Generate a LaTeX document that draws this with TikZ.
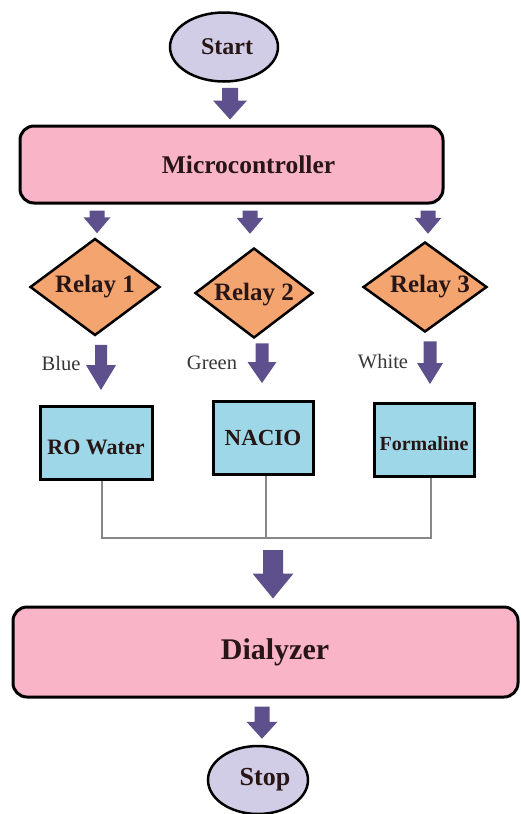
\documentclass[tikz,border=0pt]{standalone}
\usepackage{fontspec}
\setmainfont{Liberation Serif}
\usetikzlibrary{shapes.geometric,calc}
\definecolor{termc}{RGB}{210,205,230}
\definecolor{pinkc}{RGB}{249,180,200}
\definecolor{orangec}{RGB}{244,164,110}
\definecolor{tankc}{RGB}{158,216,232}
\definecolor{arrowc}{RGB}{94,80,140}
\definecolor{grayc}{RGB}{135,135,135}
\definecolor{textc}{RGB}{40,22,22}
\definecolor{labc}{RGB}{55,55,55}
\tikzset{
  term/.style={ellipse, draw=black, line width=2.5pt, fill=termc, inner sep=0pt,
    font=\bfseries\fontsize{24}{28}\selectfont, text=textc},
  bigbox/.style={rectangle, rounded corners=14pt, draw=black, line width=3pt, fill=pinkc,
    inner sep=0pt, text=textc},
  relay/.style={diamond, aspect=1.5, draw=black, line width=2.5pt, fill=orangec, inner sep=0pt,
    font=\bfseries\fontsize{25}{29}\selectfont, text=textc},
  tank/.style={rectangle, draw=black, line width=3pt, fill=tankc, inner sep=0pt,
    minimum height=73pt, text=textc},
  colorlab/.style={font=\fontsize{20.5}{24}\selectfont, text=labc, inner sep=0pt},
  grayline/.style={draw=grayc, line width=1.3pt},
  blockarrow/.style={fill=arrowc},
}
% #1 x reference, #2 top reference, #3 bottom reference, #4 top gap, #5 bottom gap,
% #6 half shaft width, #7 half head width, #8 head length
\newcommand\blockarr[8]{%
  \path[blockarrow] let \p1=(#1), \p2=(#2), \p3=(#3) in
    (\x1-#6,\y2-#4) -- (\x1+#6,\y2-#4) -- (\x1+#6,\y3+#5+#8) -- (\x1+#7,\y3+#5+#8)
    -- (\x1,\y3+#5) -- (\x1-#7,\y3+#5+#8) -- (\x1-#6,\y3+#5+#8) -- cycle;}
\begin{document}
\begin{tikzpicture}[x=1pt,y=-1pt]
\useasboundingbox[fill=white] (0,0) rectangle (520,814);

\node[term, minimum width=108pt, minimum height=69pt] (start) at (224,47) {\hspace*{6pt}Start};
\node[bigbox, minimum width=423pt, minimum height=77pt,
  font=\bfseries\fontsize{25.5}{29}\selectfont] (micro) at (231.5,164.5) {\hspace*{34pt}Microcontroller};

\node[relay, minimum width=130pt, minimum height=97pt] (relay1) at (95,287) {Relay 1};
\node[relay, minimum width=118pt, minimum height=90pt] (relay2) at (254,293) {\raisebox{-2pt}[\height][\depth]{Relay 2}};
\node[relay, minimum width=115pt, minimum height=90pt] (relay3) at (425,287) {\hspace*{10pt}Relay 3};

\node[colorlab] (blue) at (61,363) {Blue};
\node[colorlab] (green) at (212,363) {Green};
\node[colorlab] (white) at (383,362) {White};

\node[tank, minimum width=112pt, font=\bfseries\fontsize{22}{26}\selectfont] (ro) at (96,443) {\raisebox{-4pt}[\height][\depth]{RO Water}};
\node[tank, minimum width=100pt, font=\bfseries\fontsize{23}{27}\selectfont] (nacio) at (263,438) {NACIO};
\node[tank, minimum width=100pt, font=\bfseries\fontsize{20}{24}\selectfont] (form) at (424,440) {\raisebox{-4pt}[\height][\depth]{Formaline}};

\coordinate (merge) at (266,538);

\node[bigbox, minimum width=505pt, minimum height=90pt,
  font=\bfseries\fontsize{30}{34}\selectfont] (dialyzer) at (265.5,652) {\hspace*{19pt}Dialyzer};
\node[term, minimum width=100pt, minimum height=68pt,
  font=\bfseries\fontsize{26}{30}\selectfont] (stop) at (258,780) {\hspace*{14pt}Stop};

% connectors
\blockarr{[xshift=6pt]start.center}{start.south}{micro.north}{5pt}{5pt}{8pt}{17pt}{19pt}
\blockarr{[xshift=2pt]relay1.center}{micro.south}{relay1.north}{6pt}{4pt}{7.5pt}{13.5pt}{16pt}
\blockarr{[xshift=-4pt]relay2.center}{micro.south}{relay2.north}{6pt}{13pt}{7.5pt}{13.5pt}{16pt}
\blockarr{[xshift=3pt]relay3.center}{micro.south}{relay3.north}{6pt}{7pt}{7.5pt}{13.5pt}{16pt}
\blockarr{[xshift=6pt]relay1.center}{relay1.south}{ro.north}{8pt}{15pt}{6pt}{15pt}{25pt}
\blockarr{[xshift=8pt]relay2.center}{relay2.south}{nacio.north}{4pt}{17pt}{6.5pt}{14.5pt}{21pt}
\blockarr{[xshift=5pt]relay3.center}{relay3.south}{form.north}{8pt}{18pt}{6.5pt}{13pt}{21pt}

\draw[grayline] ([xshift=6pt]ro.south) |- (merge) -| ([xshift=7pt]form.south);
\draw[grayline] (merge) -- (merge |- nacio.south);

\blockarr{[xshift=7pt]merge}{merge}{dialyzer.north}{12pt}{7pt}{10pt}{20.5pt}{25pt}
\blockarr{[xshift=-3.5pt]dialyzer.center}{dialyzer.south}{stop.north}{8pt}{6pt}{7.5pt}{15.5pt}{17pt}
\end{tikzpicture}
\end{document}
